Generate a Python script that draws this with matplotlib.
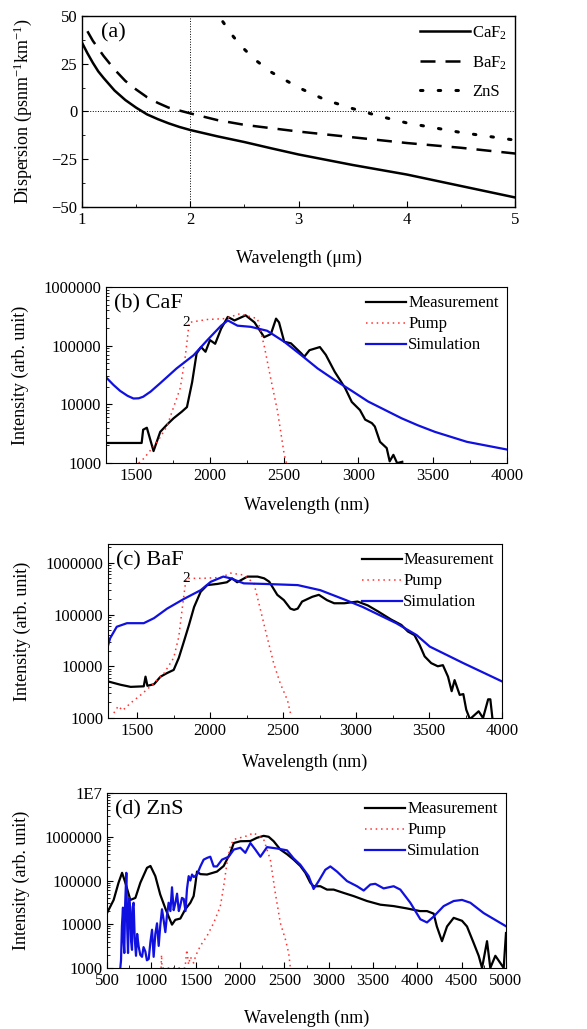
import matplotlib
matplotlib.use("Agg")
import matplotlib.pyplot as plt
from matplotlib.ticker import FixedLocator, NullFormatter, LogLocator

plt.rcParams['font.family'] = ['Liberation Serif', 'DejaVu Serif']
plt.rcParams['mathtext.fontset'] = 'custom'
plt.rcParams['mathtext.rm'] = 'Liberation Serif'
plt.rcParams['mathtext.it'] = 'Liberation Serif:italic'
plt.rcParams['font.size'] = 12

# ---- panel (a): dispersion ----
caf2_x = [1.0, 1.05, 1.1, 1.15, 1.2, 1.3, 1.4, 1.5, 1.6, 1.7, 1.8, 1.9, 2.0, 2.25, 2.5, 2.75,
          3.0, 3.5, 4.0, 4.5, 5.0]
caf2_y = [36, 30.5, 25.5, 21, 17.5, 11, 6, 2, -1.5, -4, -6.2, -8.1, -9.7, -13, -16, -19.3,
          -22.5, -28, -33, -39, -45]
baf2_x = [1.05, 1.1, 1.2, 1.3, 1.4, 1.5, 1.6, 1.7, 1.8, 1.9, 2.0, 2.25, 2.5, 3.0, 3.5, 4.0, 4.5, 5.0]
baf2_y = [42, 37, 29, 22, 16, 11.5, 7.5, 4.5, 2, 0.5, -1, -4.5, -7, -10.5, -13.5, -16.5, -19, -22]
zns_x = [2.3, 2.4, 2.5, 2.6, 2.75, 3.0, 3.25, 3.5, 3.75, 4.0, 4.5, 5.0]
zns_y = [47, 39, 32.5, 27, 20.5, 12.5, 6, 1.5, -2.5, -6, -11, -15]

# ---- panel (b): CaF2 ----
b_meas_x = [1300, 1540, 1550, 1575, 1620, 1665, 1710, 1755, 1810, 1845, 1880, 1910, 1940, 1970,
            2000, 2035, 2075, 2120, 2165, 2240, 2300, 2365, 2410, 2445, 2465, 2500, 2545, 2615,
            2635, 2670, 2740, 2780, 2840, 2910, 2955, 3010, 3045, 3090, 3110, 3145, 3190, 3210,
            3235, 3260, 3295]
b_meas_y = [2200, 2200, 3700, 4000, 1600, 3400, 4500, 5800, 7500, 9000, 24000, 74000, 95000, 79000,
            125000, 108000, 195000, 310000, 270000, 330000, 250000, 140000, 158000, 290000, 250000,
            117000, 110000, 74000, 65000, 84000, 95000, 70000, 36000, 19000, 11000, 8000, 5500,
            4800, 4200, 2300, 1800, 1070, 1380, 1000, 1050]
b_pump_x = [1520, 1555, 1645, 1710, 1800, 1835, 1860, 1980, 2100, 2200, 2320, 2365, 2410, 2455, 2500, 2515]
b_pump_y = [1000, 1200, 2300, 4200, 19000, 69000, 250000, 280000, 290000, 350000, 290000, 100000,
            27000, 7600, 1400, 1000]
b_sim_x = [1300, 1350, 1395, 1445, 1485, 1520, 1550, 1600, 1665, 1775, 1890, 1980, 2075, 2120,
           2185, 2275, 2385, 2500, 2615, 2725, 2840, 2955, 3065, 3180, 3290, 3400, 3515, 3730, 4000]
b_sim_y = [29000, 21500, 17000, 14000, 12600, 12700, 13500, 16500, 23000, 41000, 69000, 123000,
           220000, 270000, 220000, 210000, 180000, 117000, 69000, 41000, 26000, 17000, 11200, 8000,
           5800, 4400, 3400, 2300, 1700]

# ---- panel (c): BaF2 ----
c_meas_x = [1300, 1385, 1455, 1545, 1557, 1570, 1615, 1660, 1705, 1750, 1785, 1820, 1855, 1890,
            1935, 1980, 2050, 2115, 2150, 2185, 2255, 2325, 2370, 2405, 2460, 2505, 2550, 2575,
            2600, 2630, 2700, 2745, 2800, 2850, 2920, 3010, 3080, 3150, 3240, 3310, 3355, 3400,
            3435, 3470, 3515, 3560, 3595, 3630, 3655, 3675, 3710, 3735, 3755, 3780, 3840, 3870,
            3905, 3920, 3935]
c_meas_y = [5100, 4400, 4000, 4100, 6300, 4200, 4500, 6300, 7400, 8500, 14500, 30000, 63000, 140000,
            275000, 370000, 390000, 420000, 500000, 420000, 540000, 540000, 500000, 430000, 240000,
            190000, 130000, 123000, 130000, 178000, 220000, 240000, 190000, 165000, 165000, 178000,
            150000, 115000, 80000, 63000, 47000, 40000, 26000, 15500, 11500, 10000, 10500, 6300,
            3300, 5400, 2800, 2900, 1450, 950, 1350, 1000, 2300, 2300, 950]
c_pump_x = [1340, 1370, 1400, 1455, 1525, 1615, 1685, 1750, 1785, 1810, 1835, 1950, 2075, 2140,
            2230, 2300, 2345, 2390, 2435, 2480, 2530, 2550]
c_pump_y = [1250, 1700, 1400, 1950, 2800, 4700, 7400, 14500, 37000, 140000, 500000, 500000, 520000,
            630000, 580000, 400000, 123000, 37000, 11500, 4700, 2200, 1250]
c_sim_x = [1285, 1315, 1360, 1430, 1545, 1615, 1705, 1820, 1935, 2005, 2090, 2140, 2230, 2370,
           2600, 2755, 2930, 3045, 3275, 3415, 3505, 3735, 4000]
c_sim_y = [18000, 35000, 58000, 68000, 68000, 85000, 130000, 200000, 295000, 430000, 540000,
           500000, 400000, 390000, 370000, 295000, 190000, 140000, 68000, 40000, 24000, 11500, 5100]

# ---- panel (d): ZnS ----
d_meas_x = [500, 575, 630, 670, 707, 763, 820, 876, 951, 990, 1045, 1100, 1158, 1195, 1233, 1270,
            1327, 1383, 1440, 1477, 1496, 1515, 1553, 1628, 1740, 1816, 1891, 1930, 2004, 2117,
            2192, 2267, 2323, 2380, 2455, 2530, 2605, 2680, 2737, 2793, 2830, 2906, 2981, 3056,
            3170, 3282, 3432, 3583, 3733, 3883, 4030, 4109, 4184, 4220, 4278, 4335, 4410, 4504,
            4560, 4636, 4692, 4730, 4786, 4823, 4880, 4936, 4974, 5000]
d_meas_y = [18000, 36000, 89000, 150000, 89000, 36000, 40000, 89000, 195000, 215000, 126000, 48000,
            23000, 15000, 9800, 12600, 13500, 22000, 31000, 44000, 81000, 160000, 140000, 137000,
            160000, 215000, 430000, 720000, 790000, 800000, 950000, 1050000, 1000000, 790000,
            510000, 400000, 300000, 215000, 150000, 89000, 74000, 74000, 62000, 62000, 52000,
            44000, 34000, 28000, 26000, 23000, 20000, 20000, 17500, 8900, 4100, 8900, 14000,
            12000, 8900, 3700, 1900, 1000, 4100, 1000, 1900, 1300, 1000, 6300]
d_sim_x = [650, 658, 668, 680, 688, 695, 705, 718, 728, 737, 750, 763, 772, 782, 790, 800, 812,
           827, 840, 857, 875, 895, 912, 932, 950, 970, 990, 1008, 1026, 1045, 1064, 1083, 1100,
           1120, 1140, 1158, 1175, 1195, 1215, 1233, 1252, 1270, 1290, 1310, 1327, 1345, 1365,
           1385, 1402, 1421, 1440, 1459, 1480, 1515, 1553, 1590, 1630, 1665, 1703, 1740, 1797,
           1872, 1930, 2004, 2060, 2117, 2173, 2230, 2305, 2417, 2530, 2605, 2680, 2774, 2830,
           2887, 2962, 3019, 3094, 3207, 3320, 3395, 3470, 3526, 3620, 3733, 3808, 3921, 4034,
           4109, 4184, 4297, 4410, 4504, 4598, 4748, 5000]
d_sim_y = [1000, 1500, 9000, 24000, 4000, 2200, 30000, 150000, 8000, 2200, 40000, 20000, 4000,
           2600, 25000, 31000, 5000, 1900, 6000, 3100, 2000, 1800, 3000, 2400, 1500, 1600, 4000,
           7500, 1800, 6000, 10500, 3200, 9000, 22000, 12000, 6600, 15000, 31000, 20000, 70000,
           21000, 30000, 50000, 20000, 27000, 40000, 38000, 20000, 64000, 126000, 100000, 137000,
           120000, 137000, 210000, 300000, 330000, 350000, 210000, 210000, 300000, 350000, 510000,
           560000, 430000, 720000, 510000, 350000, 580000, 540000, 490000, 320000, 230000, 126000,
           64000, 97000, 176000, 210000, 160000, 97000, 74000, 59000, 81000, 84000, 66000, 74000,
           62000, 31000, 13000, 11000, 15000, 26000, 34000, 36000, 31000, 18000, 9000]
d_pump_x = [1110, 1115, 1120, 1380, 1400, 1420, 1440, 1477, 1500, 1553, 1628, 1703, 1778, 1816, 1853,
            1891, 1930, 2080, 2154, 2267, 2342, 2398, 2455, 2512, 2549, 2568]
d_pump_y = [1000, 2000, 1000, 1000, 2600, 1200, 1800, 1300, 1900, 3200, 5400, 10700, 25700, 74000,
            250000, 620000, 870000, 1050000, 1230000, 870000, 300000, 52000, 10700, 4500, 2200, 1000]

fig = plt.figure(figsize=(5.87, 10.29), dpi=100)

# panel (a)
ax = fig.add_axes([0.1397, 0.7988, 0.738, 0.1857])
ax.plot(caf2_x, caf2_y, color='black', lw=1.8, label='CaF$_2$')
ax.plot(baf2_x, baf2_y, color='black', lw=1.8, ls=(0, (6, 4)), label='BaF$_2$')
ax.plot(zns_x, zns_y, color='black', lw=2.2, ls=(0, (0.8, 5)), dash_capstyle='round', label='ZnS')
ax.axhline(0, color='black', lw=0.7, ls=':')
ax.axvline(2, color='black', lw=0.7, ls=':')
ax.set_xlim(1, 5)
ax.set_ylim(-50, 50)
ax.set_yticks([-50, -25, 0, 25, 50])
ax.set_xticks([1, 2, 3, 4, 5])
ax.xaxis.set_minor_locator(FixedLocator([1.5, 2.5, 3.5, 4.5]))
ax.yaxis.set_minor_locator(FixedLocator([-37.5, -12.5, 12.5, 37.5]))
ax.tick_params(which='both', direction='in', labelsize=12)
ax.tick_params(which='major', length=4)
ax.tick_params(which='minor', length=2.5)
ax.set_xlabel('Wavelength (\u03bcm)', fontsize=13, labelpad=16)
ax.set_ylabel('Dispersion (psnm$^{-1}$km$^{-1}$)', fontsize=13, labelpad=12)
ax.text(0.045, 0.96, '(a)', transform=ax.transAxes, fontsize=16, va='top', ha='left')
ax.legend(loc='upper right', frameon=False, handlelength=3.0, handletextpad=0.1,
          labelspacing=0.75, fontsize=12, borderaxespad=0.1)
for s in ax.spines.values():
    s.set_linewidth(1.0)


def log_panel(rect, xlim, ylim, xticks, yticks, ylabels, title, sub_y, xpad):
    a = fig.add_axes(rect)
    a.set_yscale('log')
    a.set_xlim(*xlim)
    a.set_ylim(*ylim)
    a.set_xticks(xticks)
    step = xticks[1] - xticks[0]
    minors = [t + step / 2 for t in xticks[:-1]]
    if xlim[0] < xticks[0]:
        minors.append(xticks[0] - step / 2)
    a.xaxis.set_minor_locator(FixedLocator(minors))
    a.set_yticks(yticks)
    a.set_yticklabels(ylabels)
    a.yaxis.set_minor_locator(LogLocator(base=10, subs=range(2, 10)))
    a.yaxis.set_minor_formatter(NullFormatter())
    a.tick_params(which='both', direction='in', labelsize=12)
    a.tick_params(which='major', length=4)
    a.tick_params(which='minor', length=2)
    a.set_xlabel('Wavelength (nm)', fontsize=13, labelpad=xpad)
    a.set_ylabel('Intensity (arb. unit)', fontsize=13, labelpad=10)
    a.text(0.02, 0.96, title, transform=a.transAxes, fontsize=16, va='top', ha='left')
    if sub_y is not None:
        a.text(0.19, sub_y, '2', transform=a.transAxes, fontsize=11, va='center', ha='left')
    return a


def draw_series(a, mx, my, px, py, sx, sy):
    a.plot(mx, my, color='black', lw=1.6, label='Measurement')
    a.plot(px, py, color='#ff3030', lw=1.1, ls=(0, (1, 2.5)), label='Pump')
    a.plot(sx, sy, color='#1010e0', lw=1.6, label='Simulation')
    a.legend(loc='upper right', frameon=False, handlelength=2.4, handletextpad=0.1,
             labelspacing=0.3, fontsize=12, borderaxespad=0.1)


ylab4 = ['1000', '10000', '100000', '1000000']
axb = log_panel([0.1806, 0.5500, 0.6831, 0.1710], (1300, 4000), (1000, 1e6),
                [1500, 2000, 2500, 3000, 3500, 4000], [1e3, 1e4, 1e5, 1e6], ylab4,
                '(b) CaF', 0.80, 9)
draw_series(axb, b_meas_x, b_meas_y, b_pump_x, b_pump_y, b_sim_x, b_sim_y)

axc = log_panel([0.1840, 0.3022, 0.6712, 0.1691], (1300, 4000), (1000, 2.3e6),
                [1500, 2000, 2500, 3000, 3500, 4000], [1e3, 1e4, 1e5, 1e6], ylab4,
                '(c) BaF', 0.80, 11)
draw_series(axc, c_meas_x, c_meas_y, c_pump_x, c_pump_y, c_sim_x, c_sim_y)

axd = log_panel([0.1823, 0.0593, 0.6797, 0.1700], (500, 5000), (1000, 1e7),
                [500, 1000, 1500, 2000, 2500, 3000, 3500, 4000, 4500, 5000],
                [1e3, 1e4, 1e5, 1e6, 1e7], ylab4 + ['1E7'], '(d) ZnS', None, 15)
draw_series(axd, d_meas_x, d_meas_y, d_pump_x, d_pump_y, d_sim_x, d_sim_y)

fig.savefig('out.png', dpi=100)
